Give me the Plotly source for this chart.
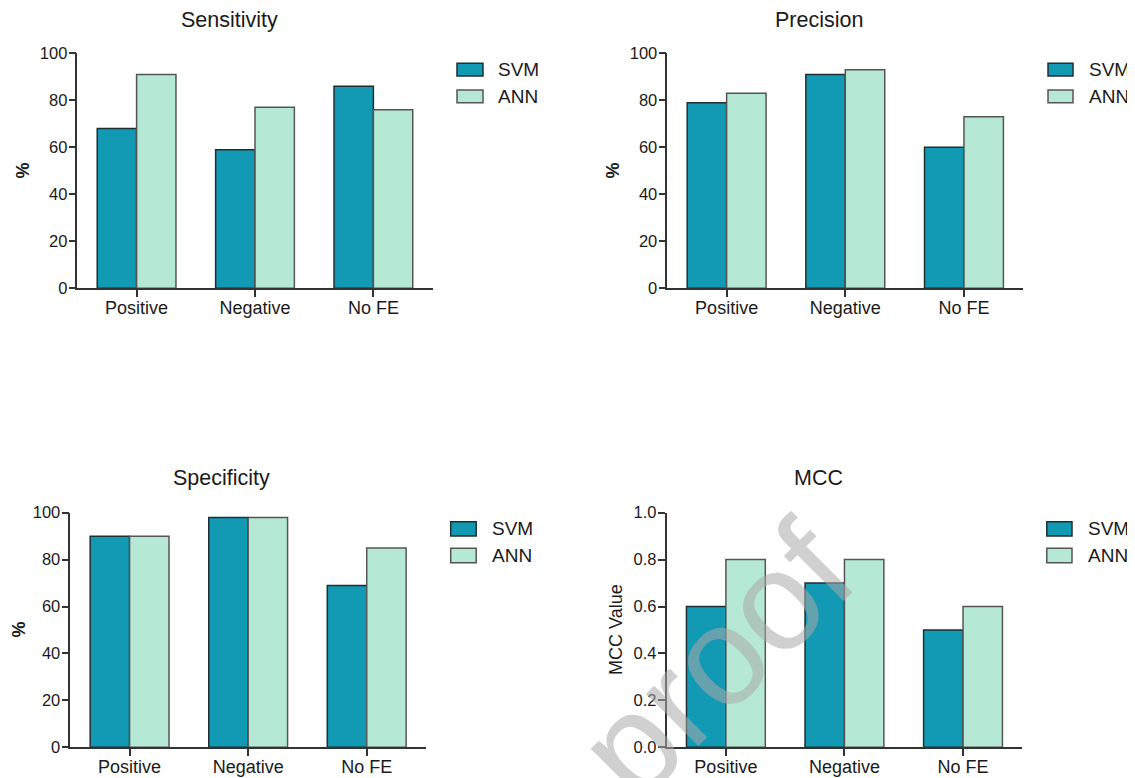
import plotly.graph_objects as go

# ---------------- data ----------------
categories = ["Positive", "Negative", "No FE"]
series_names = ["SVM", "ANN"]

sensitivity_svm = [68, 59, 86]
sensitivity_ann = [91, 77, 76]
precision_svm = [79, 91, 60]
precision_ann = [83, 93, 73]
specificity_svm = [90, 98, 69]
specificity_ann = [90, 98, 85]
mcc_svm = [0.6, 0.7, 0.5]
mcc_ann = [0.8, 0.8, 0.6]

panel_titles = ["Sensitivity", "Precision", "Specificity", "MCC"]
y_titles = ["%", "%", "%", "MCC Value"]
pct_ticks = [0, 20, 40, 60, 80, 100]
mcc_ticks = [0.0, 0.2, 0.4, 0.6, 0.8, 1.0]

# ---------------- style ----------------
PAGE_W, PAGE_H = 1135, 778
OFF = 8  # default page body margin around the plot div
W, H = PAGE_W - OFF, PAGE_H - OFF
FONT = "Arial, Liberation Sans, Helvetica, sans-serif"
SVM_FILL, SVM_LINE = "#1299b3", "#1f2f33"
ANN_FILL, ANN_LINE = "#b5e9d6", "#555555"
AXIS_COL = "#333333"
TXT = "#1a1a1a"


def px_x(p):
    return (p - OFF) / W


def px_y(p):
    return 1 - (p - OFF) / H


# panel pixel boxes (page pixels): (x_left, x_right, y_top, y_bottom)
boxes = [
    (77.4, 432.6, 53.3, 288.3),
    (667.3, 1023.3, 53.3, 288.3),
    (70.3, 426.0, 512.7, 747.3),
    (666.6, 1022.3, 512.7, 747.3),
]
title_pos = [(229, 20), (818.6, 20), (221.7, 478), (818.6, 478)]
ylabel_pos = [(22.5, 171), (612.5, 171), (18.5, 630), (616, 630)]
legend_pos = [  # swatch left, swatch right, text x, svm y0, svm y1, ann y0, ann y1
    (457, 483, 496, 63.3, 76.0, 90.0, 102.7),
    (1048, 1073, 1087, 63.3, 76.0, 90.0, 102.7),
    (450.7, 476.2, 490, 521.7, 536.0, 548.3, 562.7),
    (1046.8, 1072, 1086, 521.7, 536.0, 548.3, 562.7),
]

panels = [
    (sensitivity_svm, sensitivity_ann, [0, 100], pct_ticks, None),
    (precision_svm, precision_ann, [0, 100], pct_ticks, None),
    (specificity_svm, specificity_ann, [0, 100], pct_ticks, None),
    (mcc_svm, mcc_ann, [0, 1], mcc_ticks, ".1f"),
]

fig = go.Figure()
layout = dict(
    width=W, height=H, autosize=False,
    margin=dict(l=0, r=0, t=0, b=0, pad=0, autoexpand=False),
    paper_bgcolor="white", plot_bgcolor="white",
    barmode="group", bargap=0.335, bargroupgap=0,
    showlegend=False,
    font=dict(family=FONT, color=TXT),
)
annotations = []
shapes = []

for i, (svm, ann, yr, ticks, fmt) in enumerate(panels):
    n = "" if i == 0 else str(i + 1)
    xa, ya = "x" + n, "y" + n
    fig.add_trace(go.Bar(
        x=categories, y=svm, name=series_names[0], xaxis=xa, yaxis=ya,
        marker=dict(color=SVM_FILL, line=dict(color=SVM_LINE, width=1.5)),
    ))
    fig.add_trace(go.Bar(
        x=categories, y=ann, name=series_names[1], xaxis=xa, yaxis=ya,
        marker=dict(color=ANN_FILL, line=dict(color=ANN_LINE, width=1.5)),
    ))
    xl, xr, yt, yb = boxes[i]
    layout["xaxis" + n] = dict(
        domain=[px_x(xl), px_x(xr)], anchor=ya, type="category",
        range=[-0.5, 2.5], showline=True, linecolor=AXIS_COL, linewidth=1.5,
        ticks="outside", ticklen=7, tickwidth=1.5, tickcolor=AXIS_COL,
        ticklabelstandoff=-5,
        showgrid=False, zeroline=False, automargin=False,
        tickfont=dict(family=FONT, size=18, color=TXT), fixedrange=True,
    )
    yax = dict(
        domain=[px_y(yb), px_y(yt)], anchor=xa, range=yr,
        tickmode="array", tickvals=ticks,
        showline=True, linecolor=AXIS_COL, linewidth=1.5,
        ticks="outside", ticklen=7, tickwidth=1.5, tickcolor=AXIS_COL,
        ticklabelstandoff=-2,
        showgrid=False, zeroline=False, automargin=False,
        tickfont=dict(family=FONT, size=16.5, color=TXT), fixedrange=True,
    )
    if fmt:
        yax["tickformat"] = fmt
    layout["yaxis" + n] = yax

    # panel title
    tx, ty = title_pos[i]
    annotations.append(dict(
        text=panel_titles[i], x=px_x(tx), y=px_y(ty), xref="paper", yref="paper",
        xanchor="center", yanchor="middle", showarrow=False,
        font=dict(family=FONT, size=21.5, color=TXT),
    ))
    # y-axis label
    lx, ly = ylabel_pos[i]
    ylab = y_titles[i]
    annotations.append(dict(
        text=("<b>%s</b>" % ylab) if ylab == "%" else ylab,
        x=px_x(lx), y=px_y(ly), xref="paper", yref="paper",
        xanchor="center", yanchor="middle", showarrow=False, textangle=-90,
        borderpad=0,
        font=dict(family=FONT, size=18, color=TXT),
    ))
    # legend
    sl, sr, tx0, a0, a1, b0, b1 = legend_pos[i]
    for name, fill, line, y0, y1 in [
        (series_names[0], SVM_FILL, SVM_LINE, a0, a1),
        (series_names[1], ANN_FILL, ANN_LINE, b0, b1),
    ]:
        shapes.append(dict(
            type="rect", xref="paper", yref="paper",
            x0=px_x(sl), x1=px_x(sr), y0=px_y(y1), y1=px_y(y0),
            fillcolor=fill, line=dict(color=line, width=1.5),
        ))
        annotations.append(dict(
            text=name, x=px_x(tx0), y=px_y((y0 + y1) / 2), xref="paper", yref="paper",
            xanchor="left", yanchor="middle", showarrow=False,
            font=dict(family=FONT, size=19, color=TXT),
        ))

# watermark
annotations.append(dict(
    text="proof", x=px_x(715), y=px_y(660), xref="paper", yref="paper",
    xanchor="center", yanchor="middle", showarrow=False, textangle=-45,
    font=dict(family=FONT, size=140, color="rgba(170,170,170,0.55)"),
))

layout["annotations"] = annotations
layout["shapes"] = shapes
fig.update_layout(**layout)
fig.write_html("out.html")
